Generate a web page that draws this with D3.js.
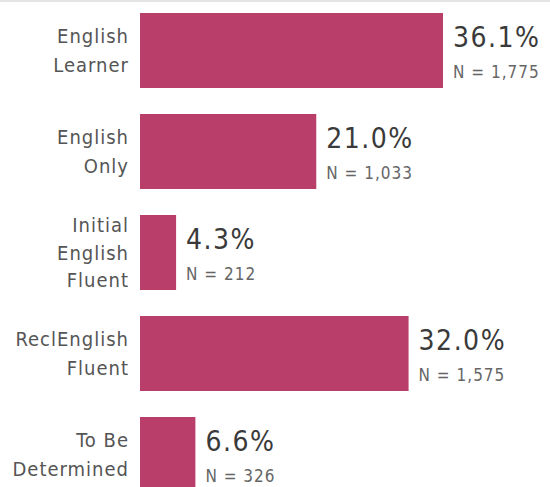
<!DOCTYPE html>
<html>
<head>
<meta charset="utf-8">
<title>English language status</title>
<style>
    body { margin: 0; background: #fff; }
    .catLabel { fill: #555; font-family: "DejaVu Sans Condensed", "DejaVu Sans"; font-size: 20px; letter-spacing: 1px; text-anchor: end; }
    .pctLabel { fill: #3a3a3a; font-family: "DejaVu Sans Condensed", "DejaVu Sans"; font-size: 28px; letter-spacing: 1.5px; }
    .nLabel { fill: #666; font-family: "DejaVu Sans Condensed", "DejaVu Sans"; font-size: 17px; letter-spacing: 1px; }
</style>
</head>
<body>
<script src="https://cdn.jsdelivr.net/npm/d3@7"></script>
<script>
    const categories = [["English", "Learner"], ["English", "Only"], ["Initial", "English", "Fluent"], ["ReclEnglish", "Fluent"], ["To Be", "Determined"]];
    const percents = [36.1, 21.0, 4.3, 32.0, 6.6];
    const counts = [1775, 1033, 212, 1575, 326];

    const width = 550, height = 487;
    const data = categories.map((c, i) => ({key: c.join(" "), lines: c, pct: percents[i], n: counts[i]}));

    const svg = d3.select("body").append("svg").attr("width", width).attr("height", height);

    svg.append("line")
        .attr("x1", 0).attr("x2", width)
        .attr("y1", 1).attr("y2", 1)
        .attr("stroke", "#e4e4e4").attr("stroke-width", 2);

    const x = d3.scaleLinear().domain([0, d3.max(percents)]).range([140, 443]);
    const y = d3.scaleBand().domain(data.map(d => d.key)).range([0, 505])
        .paddingInner(26 / 101).paddingOuter(13 / 101);

    const row = svg.selectAll(".row")
        .data(data)
        .enter().append("g")
        .attr("class", "row");

    row.append("rect")
        .attr("x", x(0))
        .attr("y", d => y(d.key))
        .attr("width", d => x(d.pct) - x(0))
        .attr("height", y.bandwidth())
        .attr("fill", "#ba3e6a");

    // multi-line category labels, centred on the bar
    row.append("text")
        .attr("class", "catLabel")
        .each(function (d) {
            const t = d3.select(this);
            const lineH = d.lines.length > 2 ? 27.5 : 29;
            const mid = y(d.key) + y.bandwidth() / 2;
            const first = mid - (d.lines.length - 1) * lineH / 2 + 7;
            d.lines.forEach((l, i) => {
                t.append("tspan").attr("x", x(0) - 11).attr("y", first + i * lineH).text(l);
            });
        });

    row.append("text")
        .attr("class", "pctLabel")
        .attr("x", d => x(d.pct) + 10)
        .attr("y", d => y(d.key) + 34)
        .text(d => d.pct.toFixed(1) + "%");

    row.append("text")
        .attr("class", "nLabel")
        .attr("x", d => x(d.pct) + 10)
        .attr("y", d => y(d.key) + 65)
        .text(d => "N = " + d3.format(",")(d.n));
</script>
</body>
</html>
